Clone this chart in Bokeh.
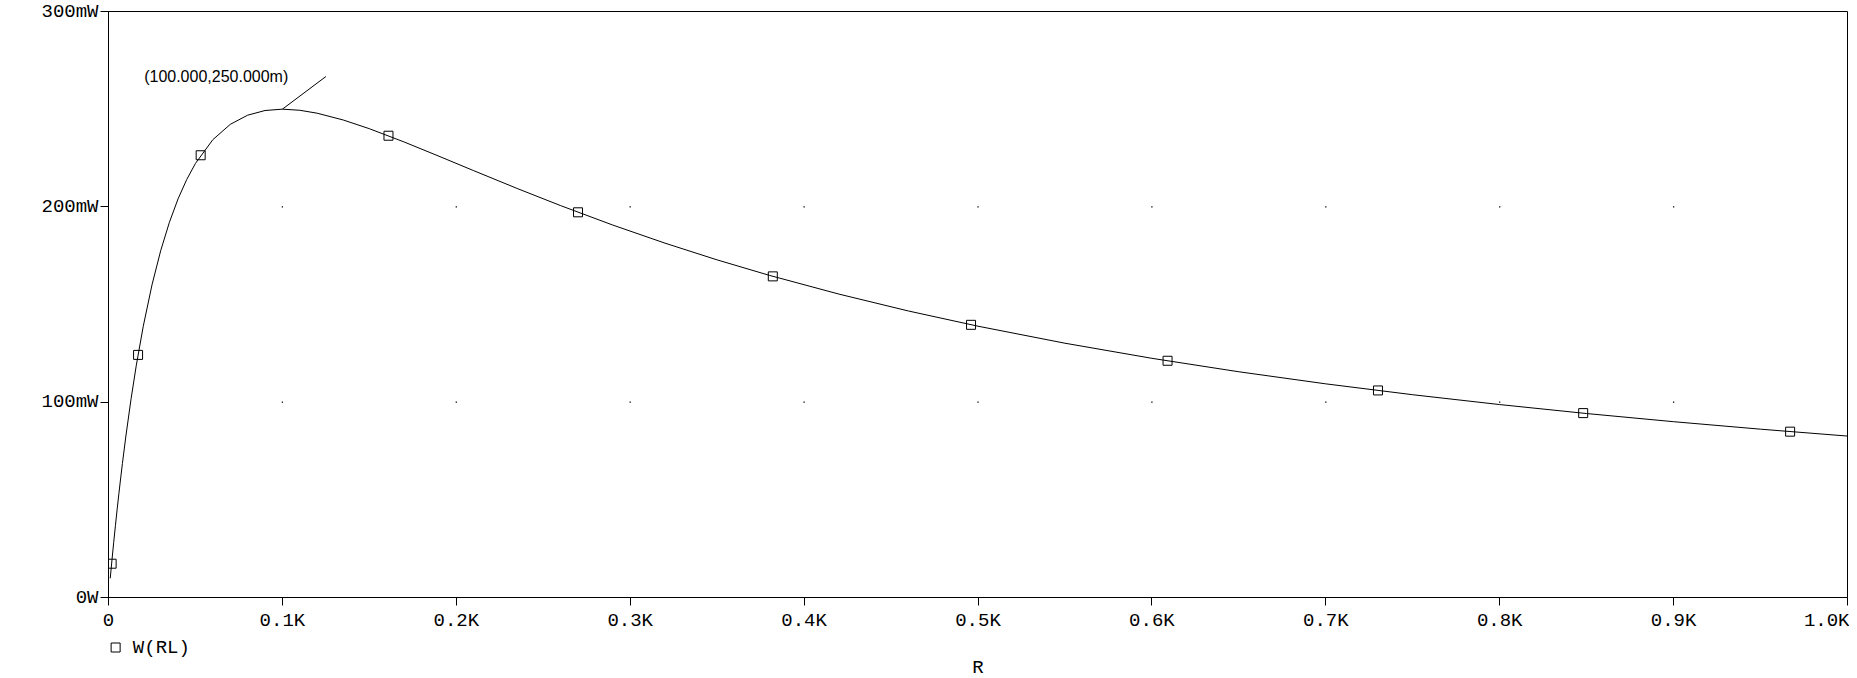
from bokeh.plotting import figure
from bokeh.models import Range1d, FixedTicker, Label
from bokeh.layouts import column
from bokeh.core.properties import value
from bokeh.embed import file_html
from bokeh.resources import INLINE

# ---- data ----
r_values = [1, 2, 3, 4, 5, 6, 7, 8, 10, 13, 16, 20, 25, 30, 35, 40, 45, 50, 60, 70, 80, 90,
            100, 110, 120, 135, 150, 170, 190, 210, 235, 260, 290, 320, 350, 380, 420, 460,
            500, 550, 600, 650, 700, 750, 800, 850, 900, 950, 1000]
w_rl_mw = [9.80, 19.22, 28.28, 36.98, 45.35, 53.40, 61.14, 68.59, 82.64, 101.81, 118.91,
           138.89, 160.00, 177.51, 192.04, 204.08, 214.03, 222.22, 234.38, 242.21, 246.91,
           249.31, 250.00, 249.43, 247.93, 244.45, 240.00, 233.20, 225.92, 218.52, 209.40,
           200.62, 190.66, 181.41, 172.84, 164.93, 155.33, 146.68, 138.89, 130.18, 122.45,
           115.56, 109.38, 103.81, 98.77, 94.18, 90.00, 86.17, 82.64]

marker_r = [1.8, 17, 53, 161, 270, 382, 496, 609, 730, 848, 967]
marker_mw = [17.3, 124.2, 226.4, 236.4, 197.2, 164.4, 139.6, 121.2, 106.0, 94.4, 84.9]

x_ticks = [0, 100, 200, 300, 400, 500, 600, 700, 800, 900, 1000]
x_tick_labels = ["0", "0.1K", "0.2K", "0.3K", "0.4K", "0.5K", "0.6K", "0.7K", "0.8K", "0.9K", "1.0K"]
y_ticks = [0, 100, 200, 300]
y_tick_labels = ["0W", "100mW", "200mW", "300mW"]

peak_r = 100.0
peak_mw = 250.0
peak_text = "(100.000,250.000m)"
series_name = "W(RL)"
x_title = "R"

MONO = "Liberation Mono"
SANS = "Liberation Sans"

x_range = Range1d(0, 1000)

p = figure(width=1849, height=634, output_backend="svg", toolbar_location=None,
           x_range=x_range, y_range=Range1d(0, 300),
           min_border_left=108, min_border_right=2, min_border_top=11, min_border_bottom=35)
p.background_fill_color = "white"
p.border_fill_color = "white"
p.outline_line_color = "black"
p.outline_line_width = 1
p.xgrid.visible = False
p.ygrid.visible = False

# axes
xa = p.xaxis[0]
xa.ticker = FixedTicker(ticks=x_ticks)
xa.major_label_overrides = {t: l for t, l in zip(x_ticks, x_tick_labels)}
ya = p.yaxis[0]
ya.ticker = FixedTicker(ticks=y_ticks)
ya.major_label_overrides = {t: l for t, l in zip(y_ticks, y_tick_labels)}
for ax in (xa, ya):
    ax.axis_line_color = "black"
    ax.major_tick_line_color = "black"
    ax.major_tick_in = 0
    ax.major_tick_out = 8
    ax.minor_tick_line_color = None
    ax.major_label_text_font = MONO
    ax.major_label_text_font_size = "19px"
    ax.major_label_text_color = "black"
xa.major_label_standoff = 4
ya.major_label_standoff = 2

# grid dots at intersections
gx = [x for x in x_ticks[1:-1] for _ in y_ticks[1:-1]]
gy = [y for _ in x_ticks[1:-1] for y in y_ticks[1:-1]]
p.scatter(gx, gy, marker="square", size=1.3, fill_color="black", line_color=None)

# curve and markers
p.line(r_values, w_rl_mw, line_color="black", line_width=1)
p.scatter(marker_r, marker_mw, marker="square", size=9, fill_color=None,
          line_color="black", line_width=1)

# peak annotation
p.segment(x0=[peak_r], y0=[peak_mw], x1=[peak_r + 25], y1=[peak_mw + 16.7],
          line_color="black", line_width=1)
p.add_layout(Label(x=peak_r - 79.5, y=peak_mw + 16.5, text=peak_text, text_align="left",
                   text_baseline="middle", text_font=SANS, text_font_size="16px",
                   text_color="black"))

# strip below the plot: legend entry and x-axis title
p2 = figure(width=1849, height=44, output_backend="svg", toolbar_location=None,
            x_range=x_range, y_range=Range1d(0, 44), x_axis_type=None, y_axis_type=None,
            min_border_left=108, min_border_right=2, min_border_top=0, min_border_bottom=0)
p2.outline_line_color = None
p2.background_fill_color = "white"
p2.border_fill_color = "white"
p2.scatter([4.1], [31], marker="square", size=9, fill_color=None,
           line_color="black", line_width=1)
p2.text(x=[14.0], y=[31], text=[series_name], text_font=value(MONO),
        text_font_size="19px", text_align="left", text_baseline="middle",
        text_color="black")
p2.text(x=[500], y=[11], text=[x_title], text_font=value(MONO),
        text_font_size="19px", text_align="center", text_baseline="middle",
        text_color="black")

layout = column(p, p2, spacing=0)
open("out.html", "w").write(file_html(layout, INLINE))
